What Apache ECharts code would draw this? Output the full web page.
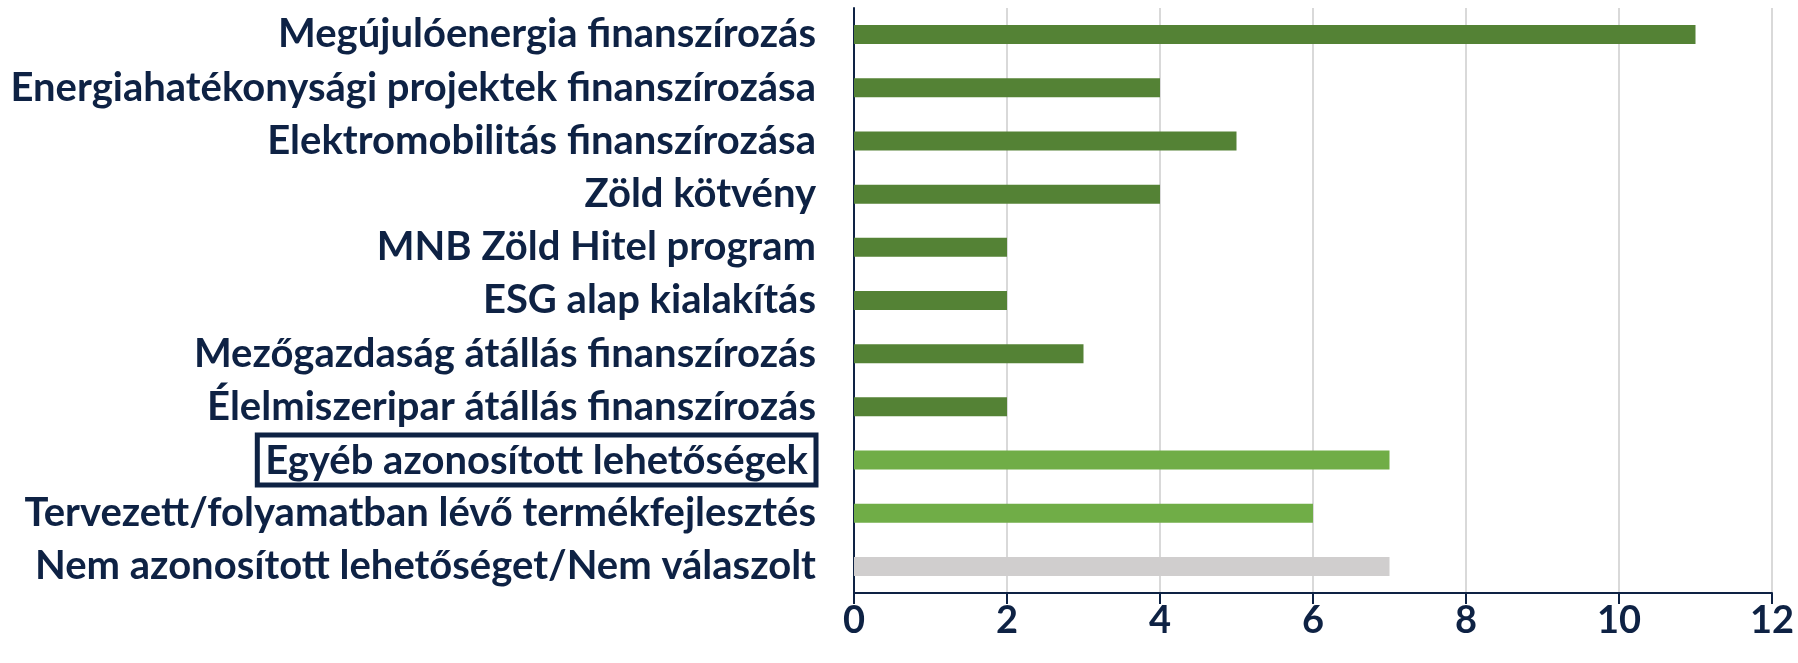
<!DOCTYPE html>
<html>
<head>
<meta charset="utf-8">
<script src="https://cdn.jsdelivr.net/npm/echarts@6/dist/echarts.min.js"></script>
<style>
  html, body { margin: 0; padding: 0; background: #fff; }
  #chart { width: 1798px; height: 663px; }
</style>
</head>
<body>
<div id="chart"></div>
<script>
// Categories, top to bottom
const categories = [
  'Megújulóenergia finanszírozás',
  'Energiahatékonysági projektek finanszírozása',
  'Elektromobilitás finanszírozása',
  'Zöld kötvény',
  'MNB Zöld Hitel program',
  'ESG alap kialakítás',
  'Mezőgazdaság átállás finanszírozás',
  'Élelmiszeripar átállás finanszírozás',
  'Egyéb azonosított lehetőségek',
  'Tervezett/folyamatban lévő termékfejlesztés',
  'Nem azonosított lehetőséget/Nem válaszolt'
];
const values = [11, 4, 5, 4, 2, 2, 3, 2, 7, 6, 7];
const xTicks = [0, 2, 4, 6, 8, 10, 12];

// highlighted label (boxed)
const boxedLabel = 'Egyéb azonosított lehetőségek';

// colours: dark green, light green, grey
const DARK = '#548235', LIGHT = '#70ad47', GREY = '#d0cece';
const barColors = [DARK, DARK, DARK, DARK, DARK, DARK, DARK, DARK, LIGHT, LIGHT, GREY];
const NAVY = '#0e2244';

const chart = echarts.init(document.getElementById('chart'));

chart.setOption({
  animation: false,
  grid: { left: 854, right: 26, top: 8, bottom: 70 },
  xAxis: {
    type: 'value',
    min: xTicks[0],
    max: xTicks[xTicks.length - 1],
    interval: 2,
    axisLine: { show: true, lineStyle: { color: NAVY, width: 2 } },
    axisTick: { show: true, length: 11, lineStyle: { color: NAVY, width: 2 } },
    axisLabel: {
      color: NAVY, fontSize: 38, fontWeight: 'bold',
      fontFamily: 'Lato', margin: 9
    },
    splitLine: { show: true, lineStyle: { color: '#d9d9d9', width: 2 } }
  },
  yAxis: {
    type: 'category',
    data: categories,
    inverse: true,
    axisLine: { show: true, lineStyle: { color: NAVY, width: 2 } },
    axisTick: { show: false },
    axisLabel: {
      color: NAVY, fontSize: 40, fontWeight: 'bold',
      fontFamily: 'Lato', margin: 38,
      formatter: v => v === boxedLabel ? '{box|' + v + '}' : v,
      rich: {
        box: {
          color: NAVY, fontSize: 40, fontWeight: 'bold', fontFamily: 'Lato',
          borderColor: NAVY, borderWidth: 5,
          padding: [6, 8, 4, 8]
        }
      }
    }
  },
  series: [{
    type: 'bar',
    barWidth: 19,
    data: values.map((v, i) => ({ value: v, itemStyle: { color: barColors[i] } }))
  }]
});
</script>
</body>
</html>
